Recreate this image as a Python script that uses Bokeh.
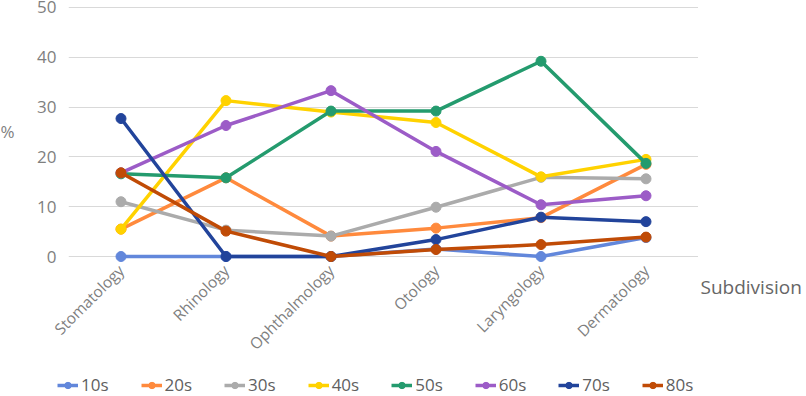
from bokeh.plotting import figure
from bokeh.models import Legend, LegendItem, Label, SingleIntervalTicker, Range1d, Title
from bokeh.layouts import row, column
from bokeh.embed import file_html
from bokeh.resources import INLINE
import math

categories = ["Stomatology", "Rhinology", "Ophthalmology", "Otology", "Laryngology", "Dermatology"]
series_names = ["10s", "20s", "30s", "40s", "50s", "60s", "70s", "80s"]
s10 = [0, 0, 0, 1.5, 0, 3.8]
s20 = [5.5, 15.8, 4.1, 5.7, 7.8, 18.5]
s30 = [11.0, 5.3, 4.1, 9.9, 15.9, 15.6]
s40 = [5.5, 31.3, 29.0, 26.9, 16.0, 19.5]
s50 = [16.6, 15.8, 29.2, 29.2, 39.2, 18.7]
s60 = [16.8, 26.3, 33.3, 21.1, 10.4, 12.2]
s70 = [27.7, 0, 0, 3.4, 7.9, 7.0]
s80 = [16.8, 5.1, 0, 1.4, 2.4, 3.9]
series_values = [s10, s20, s30, s40, s50, s60, s70, s80]
colors = ["#6287DB", "#FF8A3D", "#ABABAB", "#FFD200", "#249B6E", "#9C5CC7", "#22449B", "#C04B06"]
y_title = "%"
x_title = "Subdivision"

FONT = "Open Sans"
TOTAL_H = 396
TOP_H = 372
BOTTOM = 110
LEG_H = TOTAL_H - TOP_H


def strip(w, h, y_range=None):
    f = figure(width=w, height=h, x_range=Range1d(0, w),
               y_range=y_range if y_range is not None else Range1d(0, h),
               x_axis_type=None, y_axis_type=None, output_backend="svg",
               toolbar_location=None, min_border=0)
    f.min_border_left = f.min_border_right = f.min_border_top = f.min_border_bottom = 0
    f.outline_line_color = None
    return f


# main chart
p = figure(width=668, height=TOP_H, x_range=categories, y_range=(-1.2, 51.4),
           output_backend="svg", toolbar_location=None,
           min_border_left=38, min_border_right=0, min_border_top=0, min_border_bottom=BOTTOM)
p.outline_line_color = None
p.xgrid.grid_line_color = None
p.ygrid.grid_line_color = "#d9d9d9"
p.ygrid.grid_line_width = 1
p.yaxis.ticker = SingleIntervalTicker(interval=10)
for ax in (p.xaxis, p.yaxis):
    ax.axis_line_color = None
    ax.major_tick_line_color = None
    ax.minor_tick_line_color = None
    ax.major_tick_out = 0
    ax.major_tick_in = 0
    ax.minor_tick_out = 0
    ax.major_label_text_color = "#7f7f7f"
    ax.major_label_text_font = FONT
p.yaxis.major_label_text_font_size = "17px"
p.yaxis.major_label_standoff = 12
p.xaxis.major_label_text_font_size = "15.5px"
p.xaxis.major_label_orientation = math.pi / 4
p.xaxis.major_label_standoff = 5

# legend strip (its own small canvas below the chart)
p3 = strip(806, LEG_H)
items = []
for name, vals, col in zip(series_names, series_values, colors):
    p.line(categories, vals, line_color=col, line_width=3.5)
    p.scatter(categories, vals, size=10, fill_color=col, line_color=col)
    # legend proxies drawn outside the strip's visible range
    lr = p3.line([-20, -10], [-20, -20], line_color=col, line_width=3.5)
    sr = p3.scatter([-20], [-20], size=9.5, fill_color=col, line_color=col)
    items.append(LegendItem(label=name, renderers=[lr, sr]))

legend = Legend(items=items, orientation="horizontal", location=(57, 0),
                glyph_width=21, glyph_height=16, label_standoff=3, spacing=32,
                padding=0, margin=0, border_line_color=None, background_fill_alpha=0,
                label_text_font=FONT, label_text_font_size="17px", label_text_color="#5f5f5f")
p3.add_layout(legend, "center")

# left strip with y title (frame aligned with the chart frame)
p0 = strip(30, TOP_H, y_range=p.y_range)
p0.min_border_bottom = BOTTOM
p0.add_layout(Label(x=0, y=25, text=y_title, text_font=FONT, text_font_size="17px",
                    text_color="#7f7f7f", text_baseline="middle", text_align="left"))

# right strip with x title placed just below the aligned frame
p2 = strip(108, TOP_H, y_range=p.y_range)
p2.min_border_bottom = BOTTOM
p2.add_layout(Title(text=x_title, align="left", offset=2, standoff=21, vertical_align="middle",
                    text_font=FONT, text_font_size="19px", text_font_style="normal",
                    text_color="#666666"), "below")

layout = column(row(p0, p, p2, spacing=0), p3, spacing=0)
open("out.html", "w").write(file_html(layout, INLINE))
